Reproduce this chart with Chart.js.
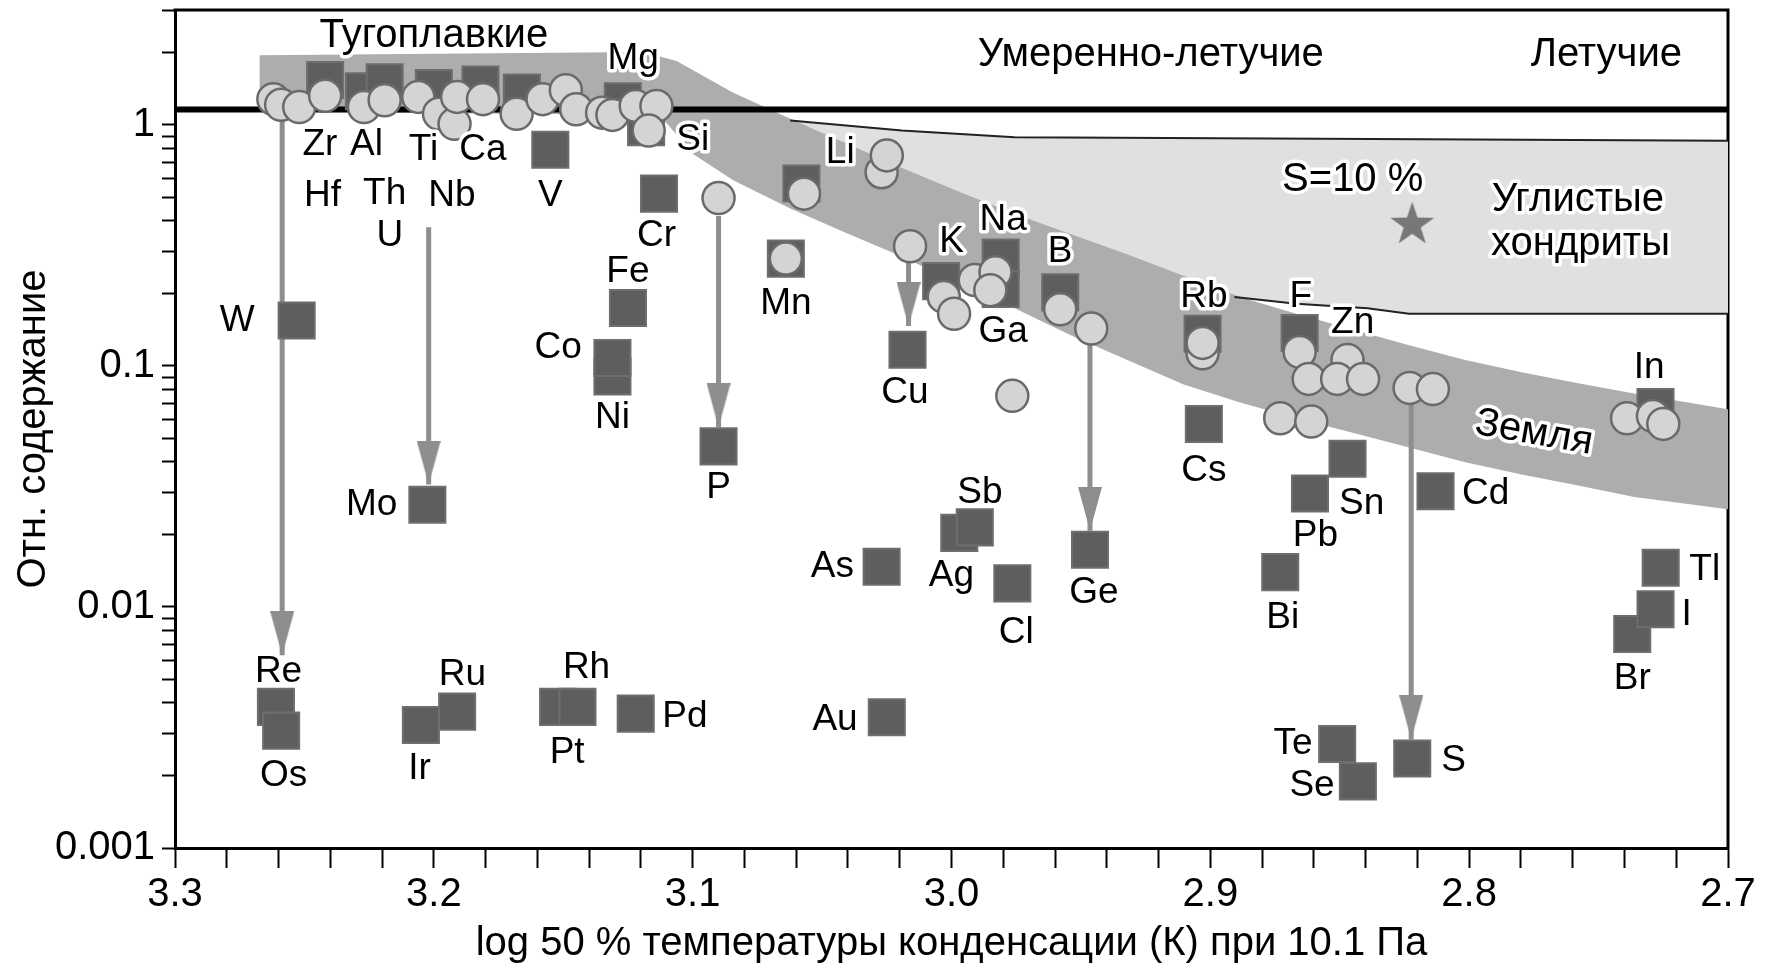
<!DOCTYPE html>
<html><head><meta charset="utf-8">
<script src="https://cdn.jsdelivr.net/npm/chart.js@4.4.1/dist/chart.umd.min.js"></script>
<style>html,body{margin:0;padding:0;background:#fff;}canvas{display:block;}</style>
</head><body>
<canvas id="c" width="1767" height="969" style="width:1767px;height:969px"></canvas>
<script>
// ---------- DATA ----------
const xTickLabels = ['2.7','2.8','2.9','3.0','3.1','3.2','3.3'];
const yTickLabels = ['0.001','0.01','0.1','1'];
const xTitle = 'log 50 % температуры конденсации (К) при 10.1 Па';
const yTitle = 'Отн. содержание';

// squares: measured abundances
const squareName = ['Zr','Al','Th','Ti','Ca','Sc','Mg','Si','V','Cr','Li','Mn','Fe','W','Ni','Co','K','Na','Ga','B','Cu','Rb','F','In','Cs','Sn','Pb','Cd','P','Mo','Ag','Sb','As','Ge','Cl','Bi','Tl','Br','I','Re','Os','Ir','Ru','Pt','Rh','Pd','Au','Te','Se','S'];
const squareX = [3.242,3.227,3.219,3.200,3.182,3.166,3.127,3.118,3.155,3.113,3.058,3.064,3.125,3.253,3.131,3.131,3.004,2.981,2.981,2.958,3.017,2.903,2.8655,2.728,2.9025,2.847,2.8615,2.813,3.090,3.2025,2.997,2.991,3.027,2.9465,2.9765,2.873,2.726,2.737,2.728,3.261,3.259,3.205,3.191,3.152,3.1445,3.122,3.025,2.851,2.843,2.822];
const squareY = [1.537,1.380,1.503,1.425,1.472,1.365,1.253,0.979,0.790,0.519,0.572,0.279,0.174,0.1545,0.0904,0.108,0.225,0.282,0.2086,0.202,0.1168,0.136,0.137,0.0676,0.0575,0.0412,0.0296,0.0302,0.0464,0.02656,0.0203,0.0214,0.0147,0.01729,0.01253,0.01395,0.01456,0.00773,0.00979,0.00385,0.00307,0.00324,0.00368,0.00385,0.00385,0.00361,0.00349,0.0027,0.00189,0.00235];

// circles: model values
const circleX = [3.262,3.259,3.252,3.242,3.227,3.219,3.206,3.198,3.192,3.191,3.181,3.168,3.158,3.149,3.145,3.135,3.131,3.122,3.114,3.117,
  3.090,3.057,3.064,3.027,3.025,3.016,3.003,2.999,2.991,2.983,2.985,2.9765,2.958,2.946,2.903,2.903,2.8655,2.847,2.862,2.851,2.841,2.873,2.861,2.823,2.814,2.739,2.729,2.725];
const circleY = [1.280,1.213,1.188,1.322,1.188,1.266,1.308,1.113,1.011,1.308,1.280,1.113,1.280,1.395,1.162,1.125,1.101,1.200,1.200,0.948,
  0.498,0.519,0.279,0.637,0.748,0.314,0.1935,0.1647,0.2273,0.245,0.2064,0.0752,0.172,0.143,0.113,0.1247,0.1144,0.106,0.0884,0.0884,0.0884,0.0607,0.0588,0.0811,0.0802,0.0607,0.062,0.0575];

// arrows (x, start value, tip value)
const arrowX    = [3.2586, 3.202, 3.090, 3.0166, 2.9465, 2.8224];
const arrowFrom = [1.10,   0.376, 0.419, 0.288,  0.129,  0.0752];
const arrowTo   = [0.0063, 0.0322,0.0557,0.1464, 0.0207, 0.00282];

// star (S = 10 %)
const starX = [2.822];
const starY = [0.389];

// thick reference line
const refLineX = [3.3, 2.7];
const refLineY = [1.16, 1.16];

// Earth band polygon (upper edge left->right, then lower edge right->left)
const bandX = [3.2673,3.1193,3.1062,3.0845,3.0627,3.0409,3.0192,2.9974,2.9756,2.9539,2.9321,2.9103,2.8885,2.8668,2.845,2.8232,2.8015,2.7797,2.7579,2.7362,2.7,
  2.7,2.7362,2.7579,2.7797,2.8015,2.8232,2.845,2.8668,2.8885,2.9103,2.9321,2.9539,2.9756,2.9974,3.0192,3.0409,3.0627,3.0845,3.0997,3.1128,3.2673];
const bandY = [1.946,2.009,1.844,1.365,1.066,0.842,0.665,0.531,0.428,0.353,0.291,0.237,0.1935,0.1647,0.1418,0.122,0.106,0.0943,0.0847,0.0769,0.0662,
  0.02544,0.02863,0.0319,0.0355,0.0399,0.0459,0.0528,0.0607,0.0706,0.0838,0.106,0.1343,0.1738,0.2202,0.2848,0.3568,0.4519,0.5908,0.756,1.101,1.137];

// carbonaceous chondrites region polygon
const chondX = [3.0623,3.0192,2.9756,2.7,2.7,2.8232,2.8393,2.8668,2.8907,2.9103,2.9321,2.9539,2.9756,2.9974,3.0192,3.0409,3.0627];
const chondY = [1.044,0.948,0.889,0.860,0.1647,0.1647,0.1738,0.1814,0.1935,0.237,0.291,0.353,0.428,0.531,0.665,0.842,1.066];
const chondTopX = [3.0623,3.0192,2.9756,2.7];
const chondTopY = [1.044,0.948,0.889,0.860];
const chondBotX = [2.8907,2.8668,2.8393,2.8232,2.7];
const chondBotY = [0.1935,0.1814,0.1738,0.1647,0.1647];

// element labels
const labelText = ['Mg','Zr','Al','Ti','Ca','Hf','Th','Nb','U','V','Si','Cr','Li','Fe','Mn','W','Co','Ni','K','Na','B','Ga','Cu','Rb','F','Zn','In','Cs','Sn','Pb','Cd','Bi','Tl','I','Br','P','Mo','Sb','Ag','As','Ge','Cl','Re','Os','Ir','Ru','Rh','Pt','Pd','Au','Te','Se','S'];
const labelX = [3.123,3.244,3.226,3.204,3.181,3.243,3.219,3.193,3.217,3.155,3.100,3.114,3.043,3.125,3.064,3.276,3.152,3.131,3.000,2.980,2.958,2.980,3.018,2.9025,2.865,2.845,2.7305,2.9025,2.8415,2.8594,2.7936,2.872,2.709,2.716,2.737,3.090,3.224,2.989,3.000,3.046,2.945,2.975,3.260,3.258,3.2055,3.189,3.141,3.1485,3.103,3.045,2.868,2.8607,2.806];
const labelY = [1.884,0.824,0.824,0.790,0.790,0.508,0.519,0.508,0.3455,0.508,0.870,0.3455,0.765,0.245,0.1814,0.1545,0.1194,0.0607,0.3274,0.406,0.297,0.1388,0.0777,0.1935,0.1935,0.1512,0.0985,0.0366,0.02685,0.01966,0.0296,0.00898,0.01425,0.00928,0.00503,0.0312,0.02656,0.0299,0.0135,0.0147,0.0115,0.00781,0.00537,0.0020,0.00213,0.00525,0.0056,0.00248,0.00349,0.00342,0.0027,0.001815,0.0023];

// region notes
const noteText = ['Тугоплавкие','Умеренно-летучие','Летучие','S=10 %','Углистые','хондриты','Земля'];
const noteX = [3.200,2.923,2.747,2.845,2.758,2.757,2.775];
const noteY = [2.335,1.946,1.946,0.591,0.487,0.3205,0.0528];
const noteAngle = [0,0,0,0,0,0,10];

// ---------- RENDER ----------
const FONT = "'Liberation Sans', Arial, Helvetica, sans-serif";
Chart.defaults.font.family = FONT;
Chart.defaults.color = '#000';

const pts = (xs, ys) => xs.map((x, i) => ({x, y: ys[i]}));

const xTickValues = [];
for (let i = 0; i <= 30; i++) xTickValues.push(Math.round((2.7 + i * 0.02) * 100) / 100);
const yTickValues = [];
for (let e = -3; e <= 0; e++) for (let m = 1; m <= 9; m++) {
  const v = parseFloat((m * Math.pow(10, e)).toPrecision(6));
  if (v <= 3) yTickValues.push(v);
}

const arrowHead = (() => {
  const c = document.createElement('canvas'); c.width = 24; c.height = 88;
  const g = c.getContext('2d'); g.fillStyle = '#8e8e8e';
  g.beginPath(); g.moveTo(0, 0); g.lineTo(24, 0); g.lineTo(12, 44); g.closePath(); g.fill();
  return c;
})();
const starImg = (() => {
  const c = document.createElement('canvas'); c.width = 46; c.height = 46;
  const g = c.getContext('2d'); g.fillStyle = '#777';
  g.beginPath();
  for (let i = 0; i < 10; i++) {
    const r = i % 2 ? 9 : 23, a = -Math.PI / 2 + i * Math.PI / 5;
    g.lineTo(23 + r * Math.cos(a), 24 + r * Math.sin(a));
  }
  g.closePath(); g.fill();
  return c;
})();

const datasets = [];
datasets.push({type:'scatter', data: pts(circleX, circleY), order: 1,
  pointStyle:'circle', pointRadius:16, backgroundColor:'#d4d4d4', borderColor:'#6a6a6a', borderWidth:2.5});
datasets.push({type:'scatter', data: pts(squareX, squareY), order: 2,
  pointStyle:'rect', pointRadius:25.5, backgroundColor:'#5e5e5e', borderColor:'#6e6e6e', borderWidth:2});
datasets.push({type:'scatter', data: pts(starX, starY), order: 3, pointStyle: starImg, pointRadius: 20});
datasets.push({type:'scatter', data: pts(arrowX, arrowTo), order: 4, pointStyle: arrowHead, pointRadius: 20});
arrowX.forEach((ax, i) => {
  datasets.push({type:'line', data: [{x: ax, y: arrowFrom[i]}, {x: ax, y: arrowTo[i]}], order: 5,
    borderColor:'#8e8e8e', borderWidth:5, pointRadius:0, fill:false, borderCapStyle:'butt'});
});
datasets.push({type:'line', data: pts(refLineX, refLineY), order: 6, borderColor:'#000', borderWidth:6, pointRadius:0, fill:false});
datasets.push({type:'line', data: pts(chondTopX, chondTopY), order: 7, borderColor:'#222', borderWidth:2, pointRadius:0, fill:false});
datasets.push({type:'line', data: pts(chondBotX, chondBotY), order: 7, borderColor:'#222', borderWidth:2, pointRadius:0, fill:false});
datasets.push({type:'line', data: pts(bandX, bandY), order: 8, borderWidth:0, borderColor:'rgba(0,0,0,0)',
  backgroundColor:'#adadad', pointRadius:0, fill:'shape', tension:0});
datasets.push({type:'line', data: pts(chondX, chondY), order: 9, borderWidth:0, borderColor:'rgba(0,0,0,0)',
  backgroundColor:'#e0e0e0', pointRadius:0, fill:'shape', tension:0});

const framePlugin = {
  id: 'frame',
  beforeDatasetsDraw(chart) {
    const {ctx, chartArea: a} = chart;
    ctx.save(); ctx.strokeStyle = '#000'; ctx.lineWidth = 3;
    ctx.beginPath(); ctx.moveTo(a.left - 1.5, a.top); ctx.lineTo(a.right, a.top); ctx.lineTo(a.right, a.bottom + 1.5); ctx.stroke();
    ctx.restore();
  }
};
const textPlugin = {
  id: 'texts',
  afterDatasetsDraw(chart) {
    const {ctx, scales: {x, y}} = chart;
    ctx.save();
    ctx.textAlign = 'center'; ctx.textBaseline = 'middle'; ctx.lineJoin = 'round';
    const draw = (t, px, py, size, ang) => {
      ctx.save(); ctx.translate(px, py); if (ang) ctx.rotate(ang * Math.PI / 180);
      ctx.font = size + 'px ' + FONT;
      ctx.strokeStyle = '#fff'; ctx.lineWidth = 7; ctx.strokeText(t, 0, 0);
      ctx.fillStyle = '#000'; ctx.fillText(t, 0, 0);
      ctx.restore();
    };
    labelText.forEach((t, i) => draw(t, x.getPixelForValue(labelX[i]), y.getPixelForValue(labelY[i]), 37, 0));
    noteText.forEach((t, i) => draw(t, x.getPixelForValue(noteX[i]), y.getPixelForValue(noteY[i]), 40, noteAngle[i]));
    ctx.restore();
  }
};

new Chart(document.getElementById('c'), {
  type: 'scatter',
  data: { datasets },
  plugins: [framePlugin, textPlugin],
  options: {
    responsive: false, animation: false, devicePixelRatio: 1, events: [],
    layout: { autoPadding: false, padding: { top: 10, right: 39, left: 0, bottom: 0 } },
    plugins: { legend: { display: false }, tooltip: { enabled: false } },
    scales: {
      x: {
        type: 'linear', reverse: true, min: 2.7, max: 3.3,
        afterBuildTicks: s => { s.ticks = xTickValues.map(v => ({value: v})); },
        afterFit: s => { s.height = 121; s.paddingLeft = 0; s.paddingRight = 0; },
        ticks: { autoSkip: false, maxRotation: 0, minRotation: 0, font: { size: 40 }, color: '#000', padding: 3,
          callback: v => { const l = xTickLabels.find(s => Math.abs(parseFloat(s) - v) < 1e-6); return l === undefined ? '' : l; } },
        grid: { drawOnChartArea: false, drawTicks: true, tickLength: 20, tickWidth: 2, tickColor: '#000' },
        border: { display: true, color: '#000', width: 3 },
        title: { display: true, text: xTitle, font: { size: 40 }, color: '#000', padding: { top: 0, bottom: 1 } }
      },
      y: {
        type: 'logarithmic', min: 0.001, max: 3,
        afterBuildTicks: s => { s.ticks = yTickValues.map(v => ({value: v})); },
        afterFit: s => { s.width = 175; s.paddingTop = 0; s.paddingBottom = 0; },
        ticks: { autoSkip: false, font: { size: 40 }, color: '#000', padding: 7,
          callback: v => { const l = yTickLabels.find(s => Math.abs(parseFloat(s) - v) < 1e-9); return l === undefined ? '' : l; } },
        grid: { drawOnChartArea: false, drawTicks: true, tickLength: 13, tickWidth: 2, tickColor: '#000' },
        border: { display: true, color: '#000', width: 3 },
        title: { display: true, text: yTitle, font: { size: 40 }, color: '#000', padding: { top: 10, bottom: 0 } }
      }
    }
  }
});
</script>
</body></html>
